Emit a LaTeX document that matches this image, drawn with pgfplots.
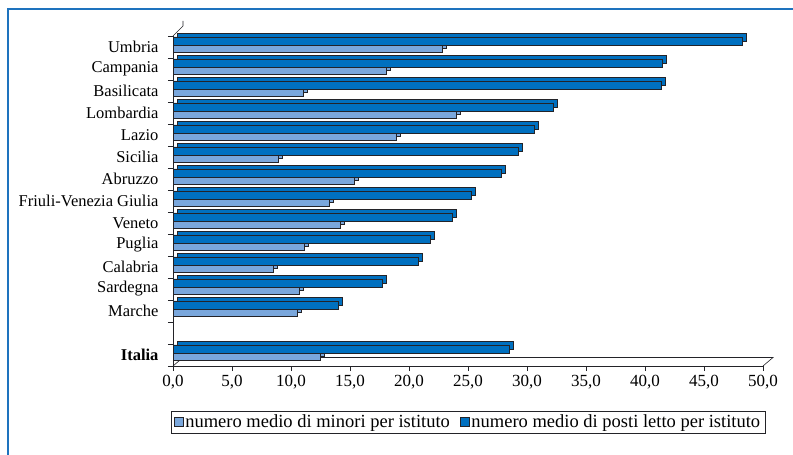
\documentclass[border=0pt]{standalone}
\usepackage{fontspec}
\setmainfont{Liberation Serif}
\usepackage{pgfplots}
\pgfplotsset{compat=1.18}
\definecolor{darkbar}{RGB}{0,112,192}
\definecolor{lightbar}{RGB}{122,167,220}
\definecolor{frameblue}{RGB}{30,115,190}
\definecolor{edge}{RGB}{35,35,40}
\newcommand\lblfont{\fontsize{16.5bp}{17bp}\selectfont}
\newcommand\tickfont{\fontsize{17bp}{18bp}\selectfont}
\newcommand\legfont{\fontsize{18.5bp}{19bp}\selectfont}

\begin{document}
\begin{tikzpicture}
\useasboundingbox (0,0) rectangle (793bp,455bp);
\draw[frameblue, line width=1.5bp] (8bp,0) -- (8bp,446bp) -- (793bp,446bp);
\begin{axis}[
  at={(173bp,89bp)}, anchor=south west,
  scale only axis, width=590bp, height=330bp,
  xmin=0, xmax=50, ymin=-0.5, ymax=14.5,
  clip=false,
  axis x line*=bottom, axis y line*=left,
  axis line style={edge, line width=0.6bp, -},
  xtick distance=5,
  tick align=outside, major tick length=5bp,
  tick style={edge, line width=0.6bp},
  /pgf/number format/fixed,
  /pgf/number format/fixed zerofill,
  /pgf/number format/precision=1,
  /pgf/number format/use comma,
  /pgf/number format/assume math mode=true,
  xticklabel style={font=\tickfont, yshift=-1bp},
  yticklabel style={font=\lblfont, xshift=-11bp},
  ytick={-0.5,0.5,...,14.5}, yticklabels={},
  extra y ticks={0,2,3,4,5,6,7,8,9,10,11,12,13,14},
  extra y tick labels={\textbf{Italia},Marche,Sardegna,Calabria,Puglia,Veneto,
    Friuli-Venezia Giulia,Abruzzo,Sicilia,Lazio,Lombardia,Basilicata,Campania,Umbria},
  extra y tick style={major tick length=0pt},
  legend style={at={(0.5,-0.17)}, anchor=center, legend columns=2,
    draw=edge, line width=0.6bp, font=\legfont, inner xsep=3bp,
    /tikz/every even column/.append style={column sep=8bp}},
  legend image code/.code={\draw[#1] (0bp,-4.5bp) rectangle (9bp,4.5bp);},
]
% 3D frame edges
\draw[edge, line width=0.6bp] (axis cs:0,14.5) -- ++(10bp,10bp) -- ++(0,-6bp);
\draw[edge, line width=0.6bp] (axis cs:0,-0.5) -- ++(10bp,8.5bp)
  -- ([xshift=10bp,yshift=8.5bp]axis cs:50,-0.5) -- (axis cs:50,-0.5);

% numero medio di minori per istituto
\addplot[forget plot, xbar, bar width=7bp, bar shift=-1.5bp, fill=lightbar,
  draw=edge, line width=0.5bp, xshift=4bp, yshift=3.5bp] coordinates {
  (12.5,0) (10.5,2) (10.7,3) (8.5,4) (11.1,5) (14.2,6) (13.2,7)
  (15.4,8) (8.9,9) (18.9,10) (24.0,11) (11.0,12) (18.1,13) (22.8,14)};
\addplot[xbar, bar width=7bp, bar shift=-1.5bp, fill=lightbar,
  draw=edge, line width=0.5bp] coordinates {
  (12.5,0) (10.5,2) (10.7,3) (8.5,4) (11.1,5) (14.2,6) (13.2,7)
  (15.4,8) (8.9,9) (18.9,10) (24.0,11) (11.0,12) (18.1,13) (22.8,14)};
\addlegendentry{numero medio di minori per istituto}

% numero medio di posti letto per istituto
\addplot[forget plot, xbar, bar width=8bp, bar shift=6bp, fill=darkbar,
  draw=edge, line width=0.5bp, xshift=4bp, yshift=3.5bp] coordinates {
  (28.5,0) (14.0,2) (17.7,3) (20.8,4) (21.8,5) (23.7,6) (25.3,7)
  (27.8,8) (29.3,9) (30.6,10) (32.2,11) (41.4,12) (41.5,13) (48.2,14)};
\addplot[xbar, bar width=8bp, bar shift=6bp, fill=darkbar,
  draw=edge, line width=0.5bp] coordinates {
  (28.5,0) (14.0,2) (17.7,3) (20.8,4) (21.8,5) (23.7,6) (25.3,7)
  (27.8,8) (29.3,9) (30.6,10) (32.2,11) (41.4,12) (41.5,13) (48.2,14)};
\addlegendentry{numero medio di posti letto per istituto}
\end{axis}
\end{tikzpicture}
\end{document}
